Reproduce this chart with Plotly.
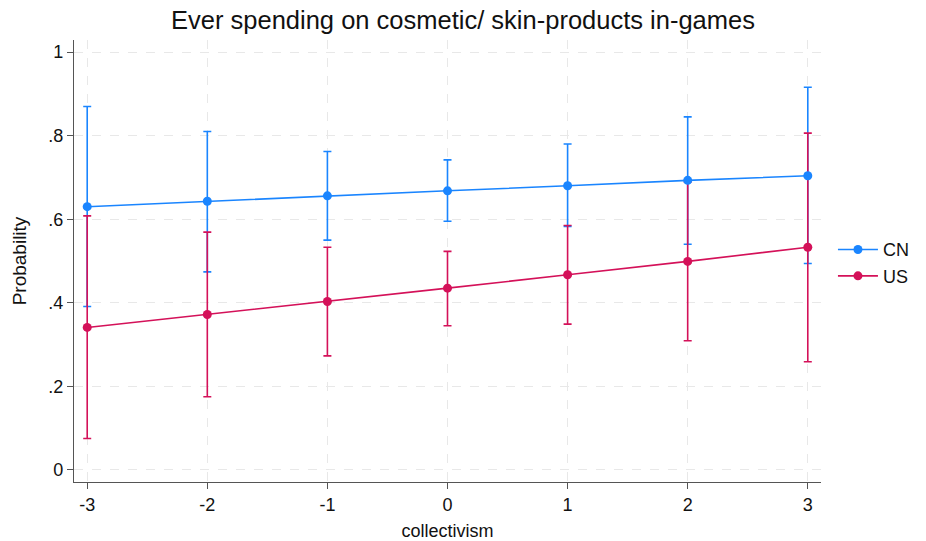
import plotly.graph_objects as go

# Predicted probabilities with 95% confidence limits by collectivism score
collectivism = [-3, -2, -1, 0, 1, 2, 3]

cn_prob = [0.630, 0.643, 0.656, 0.668, 0.680, 0.693, 0.704]
cn_lower = [0.391, 0.474, 0.550, 0.595, 0.583, 0.540, 0.494]
cn_upper = [0.870, 0.810, 0.762, 0.742, 0.780, 0.845, 0.916]

us_prob = [0.341, 0.372, 0.403, 0.435, 0.467, 0.499, 0.533]
us_lower = [0.075, 0.175, 0.273, 0.345, 0.349, 0.309, 0.259]
us_upper = [0.608, 0.569, 0.533, 0.523, 0.585, 0.689, 0.806]

y_ticks = [0, 0.2, 0.4, 0.6, 0.8, 1]
y_tick_labels = ["0", ".2", ".4", ".6", ".8", "1"]

BLUE = "#1a85ff"
RED = "#d41159"
FONT = "Liberation Sans, Arial, Helvetica, sans-serif"
TEXT = "#111111"

series = [
    ("CN", cn_prob, cn_lower, cn_upper, BLUE),
    ("US", us_prob, us_lower, us_upper, RED),
]

fig = go.Figure()

# confidence interval caps first, so point markers sit above them
for name, prob, lo, hi, color in series:
    fig.add_trace(go.Scatter(
        x=collectivism, y=prob, mode="markers",
        marker=dict(size=2, color=color, opacity=0),
        error_y=dict(
            type="data", symmetric=False,
            array=[h - p for h, p in zip(hi, prob)],
            arrayminus=[p - l for p, l in zip(prob, lo)],
            color=color, thickness=1.6, width=4,
        ),
        showlegend=False, hoverinfo="skip",
    ))

for name, prob, lo, hi, color in series:
    fig.add_trace(go.Scatter(
        x=collectivism, y=prob, mode="lines+markers", name=name,
        line=dict(color=color, width=1.6),
        marker=dict(color=color, size=9),
    ))

axis_style = dict(showgrid=True, gridcolor="#e8e8e8", griddash="dash", gridwidth=1,
                  zeroline=False, showline=True, linecolor="#555555", linewidth=1.2,
                  ticks="outside", ticklen=6, tickcolor="#555555", automargin=False,
                  tickfont=dict(size=18, color=TEXT))

fig.update_xaxes(range=[-3.11, 3.11], tickvals=collectivism,
                 ticktext=[str(v) for v in collectivism],
                 title=dict(text="collectivism", font=dict(size=18, color=TEXT), standoff=10),
                 **axis_style)
fig.update_yaxes(range=[-0.029, 1.029], tickvals=y_ticks, ticktext=y_tick_labels,
                 title=dict(text="Probability", font=dict(size=19, color=TEXT), standoff=16),
                 **axis_style)

fig.update_layout(
    width=926, height=541,
    margin=dict(l=74, r=105, t=40, b=59),
    paper_bgcolor="white", plot_bgcolor="white",
    font=dict(family=FONT, color=TEXT),
    title=dict(text="Ever spending on cosmetic/ skin-products in-games",
               x=0.5, xanchor="center", y=0.962, yanchor="middle",
               font=dict(size=25.5, color=TEXT)),
    legend=dict(x=1.016, xanchor="left", y=0.496, yanchor="middle",
                font=dict(size=18), bgcolor="rgba(0,0,0,0)",
                itemwidth=40, tracegroupgap=4),
)

fig.write_html("out.html")
